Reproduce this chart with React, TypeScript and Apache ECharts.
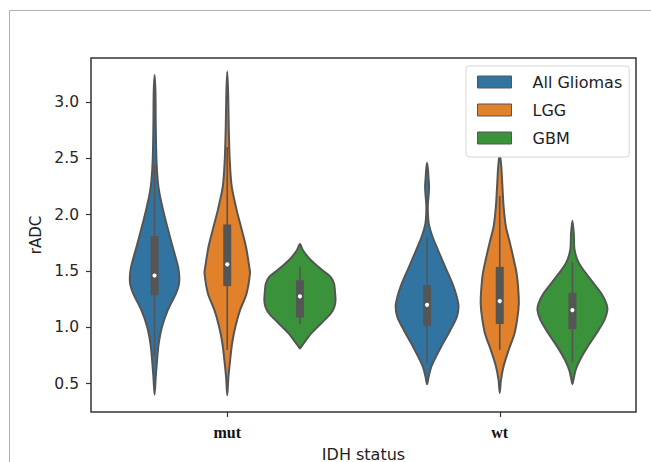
import React, { useEffect, useRef } from 'react';
import * as echarts from 'echarts';

const categories = ['mut', 'wt'];
const hueNames = ['All Gliomas', 'LGG', 'GBM'];
const hueColors = ['#3274a1', '#e1812c', '#3a923a'];
const yTicks = [0.5, 1.0, 1.5, 2.0, 2.5, 3.0];

// violin outlines: [rADC value, relative density] from bottom to top
const mutAllGliomas = [[0.404, 0], [0.56, 0.033], [0.71, 0.07], [0.857, 0.117], [1.005, 0.209], [1.15, 0.368], [1.3, 0.599], [1.38, 0.683], [1.45, 0.694], [1.537, 0.66], [1.715, 0.507], [1.89, 0.359], [2.04, 0.24], [2.19, 0.136], [2.3, 0.089], [2.48, 0.053], [2.8, 0.033], [3.08, 0.025], [3.24, 0]];
const mutLGG = [[0.398, 0], [0.56, 0.033], [0.71, 0.081], [0.857, 0.136], [1.005, 0.228], [1.153, 0.359], [1.3, 0.543], [1.48, 0.638], [1.537, 0.618], [1.715, 0.526], [1.89, 0.387], [2.04, 0.265], [2.25, 0.125], [2.485, 0.07], [2.78, 0.042], [3.08, 0.025], [3.27, 0]];
const mutGBM = [[0.812, 0], [0.827, 0.033], [0.887, 0.173], [0.946, 0.318], [1.005, 0.501], [1.064, 0.688], [1.123, 0.869], [1.182, 0.967], [1.242, 1.0], [1.3, 0.989], [1.39, 0.958], [1.448, 0.861], [1.508, 0.627], [1.567, 0.409], [1.626, 0.223], [1.686, 0.081], [1.739, 0]];
const wtAllGliomas = [[0.496, 0], [0.56, 0.042], [0.649, 0.117], [0.738, 0.248], [0.857, 0.443], [0.975, 0.652], [1.093, 0.836], [1.182, 0.883], [1.27, 0.836], [1.39, 0.71], [1.537, 0.507], [1.686, 0.306], [1.804, 0.153], [1.923, 0.047], [2.07, 0.02], [2.18, 0.045], [2.25, 0.056], [2.33, 0.04], [2.4, 0.025], [2.461, 0]];
const wtLGG = [[0.418, 0], [0.53, 0.033], [0.649, 0.103], [0.797, 0.248], [0.946, 0.415], [1.093, 0.499], [1.212, 0.535], [1.33, 0.521], [1.479, 0.474], [1.626, 0.376], [1.775, 0.265], [1.893, 0.173], [2.07, 0.109], [2.278, 0.07], [2.43, 0.042], [2.55, 0]];
const wtGBM = [[0.496, 0], [0.53, 0.025], [0.62, 0.089], [0.71, 0.209], [0.827, 0.423], [0.946, 0.674], [1.064, 0.897], [1.153, 0.981], [1.212, 0.953], [1.3, 0.813], [1.419, 0.526], [1.567, 0.187], [1.686, 0.061], [1.834, 0.039], [1.946, 0]];

// inner box: [lower whisker, q1, median, q3, upper whisker]
const mutAllGliomasBox = [0.74, 1.286, 1.46, 1.81, 2.44];
const mutLGGBox = [0.8, 1.366, 1.559, 1.913, 2.6];
const mutGBMBox = [1.03, 1.088, 1.275, 1.419, 1.537];
const wtAllGliomasBox = [0.68, 1.014, 1.2, 1.375, 1.8];
const wtLGGBox = [0.8, 1.03, 1.233, 1.537, 2.165];
const wtGBMBox = [0.69, 0.984, 1.153, 1.306, 1.58];

const shapes = [
  [mutAllGliomas, wtAllGliomas],
  [mutLGG, wtLGG],
  [mutGBM, wtGBM],
];
const boxes = [
  [mutAllGliomasBox, wtAllGliomasBox],
  [mutLGGBox, wtLGGBox],
  [mutGBMBox, wtGBMBox],
];

const GRAY = '#555555';

function makeRender(hue: number) {
  return (params: any, api: any) => {
    const cat = api.value(0) as number;
    const outline = shapes[hue][cat];
    const box = boxes[hue][cat];
    const band = api.size([1, 0])[0];
    const cx = api.coord([cat, 1])[0] + (hue - 1) * band * 0.8 / 3;
    const maxHalf = (band * 0.8) / 6 * 0.98;
    const y = (v: number) => api.coord([cat, v])[1];
    const right = outline.map(([v, d]) => [cx + d * maxHalf, y(v)]);
    const left = outline
      .slice(1, outline.length - 1)
      .reverse()
      .map(([v, d]) => [cx - d * maxHalf, y(v)]);
    return {
      type: 'group',
      children: [
        {
          type: 'polygon',
          shape: { points: right.concat(left), smooth: 0.3 },
          style: { fill: hueColors[hue], stroke: GRAY, lineWidth: 2 },
        },
        {
          type: 'line',
          shape: { x1: cx, y1: y(box[0]), x2: cx, y2: y(box[4]) },
          style: { stroke: GRAY, lineWidth: 1.6 },
        },
        {
          type: 'rect',
          shape: { x: cx - 4, y: y(box[3]), width: 8, height: y(box[1]) - y(box[3]) },
          style: { fill: GRAY },
        },
        {
          type: 'circle',
          shape: { cx, cy: y(box[2]), r: 2.1 },
          style: { fill: '#ffffff' },
        },
      ],
    };
  };
}

export default function App() {
  const ref = useRef<HTMLDivElement>(null);
  useEffect(() => {
    if (!ref.current) return;
    const chart = echarts.init(ref.current, null, { renderer: 'svg' });
    chart.setOption({
      animation: false,
      backgroundColor: '#ffffff',
      grid: {
        left: 91,
        right: 15,
        top: 58,
        bottom: 50,
        containLabel: false,
        outerBoundsMode: 'none',
        show: true,
        borderColor: '#333333',
        borderWidth: 1.5,
        backgroundColor: 'transparent',
      },
      graphic: [
        { type: 'line', shape: { x1: 9.5, y1: 10.5, x2: 651, y2: 10.5 }, style: { stroke: '#b0b0b0', lineWidth: 1 } },
        { type: 'line', shape: { x1: 9.5, y1: 10.5, x2: 9.5, y2: 462 }, style: { stroke: '#b0b0b0', lineWidth: 1 } },
      ],
      legend: {
        orient: 'vertical',
        left: 466,
        top: 66,
        icon: 'rect',
        itemWidth: 34,
        itemHeight: 12,
        itemGap: 12,
        padding: [8, 7, 11, 11],
        backgroundColor: '#ffffff',
        borderColor: '#d6d6d6',
        borderWidth: 1,
        borderRadius: 3,
        itemStyle: { borderColor: GRAY, borderWidth: 1 },
        textStyle: { fontSize: 16, fontFamily: 'DejaVu Sans', color: '#222222', padding: [0, 0, 0, 16] },
        data: hueNames,
      },
      xAxis: {
        type: 'category',
        data: categories,
        boundaryGap: true,
        axisLine: { show: false },
        axisTick: { show: true, alignWithLabel: true, length: 5, lineStyle: { color: '#333333', width: 1.2 } },
        axisLabel: { fontFamily: 'Liberation Serif', fontWeight: 'bold', fontSize: 16, color: '#111111', margin: 12 },
        splitLine: { show: false },
        name: 'IDH status',
        nameLocation: 'middle',
        nameGap: 34,
        nameTextStyle: { fontSize: 16, fontFamily: 'DejaVu Sans', color: '#222222' },
      },
      yAxis: {
        type: 'value',
        min: 0.249,
        max: 3.39,
        axisLine: { show: false },
        axisTick: { show: true, length: 5, customValues: yTicks, lineStyle: { color: '#333333', width: 1.2 } },
        axisLabel: {
          customValues: yTicks,
          formatter: (v: number) => v.toFixed(1),
          fontSize: 15.5,
          fontFamily: 'DejaVu Sans',
          color: '#262626',
          margin: 12,
        },
        splitLine: { show: false },
        name: 'rADC',
        nameLocation: 'middle',
        nameGap: 47,
        nameTextStyle: { fontSize: 15, fontFamily: 'DejaVu Sans', color: '#222222' },
      },
      series: hueNames.map((name, h) => ({
        type: 'custom',
        name,
        itemStyle: { color: hueColors[h] },
        renderItem: makeRender(h),
        data: categories.map((c, i) => [i, boxes[h][i][2]]),
        encode: { x: 0, y: 1 },
      })),
    });
    return () => chart.dispose();
  }, []);
  return (
    <div
      ref={ref}
      style={{ position: 'fixed', left: 0, top: 0, width: 651, height: 462 }}
    />
  );
}
